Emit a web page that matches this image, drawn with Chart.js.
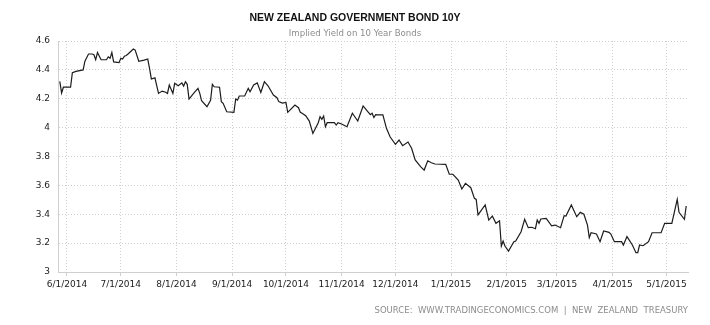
<!DOCTYPE html>
<html>
<head>
<meta charset="utf-8">
<script src="https://cdn.jsdelivr.net/npm/chart.js@4.4.1/dist/chart.umd.min.js"></script>
<style>
  html, body { margin: 0; padding: 0; background: #fff; }
  #wrap { width: 710px; height: 325px; }
</style>
</head>
<body>
<div id="wrap"><canvas id="bond"></canvas></div>
<script>
/* ---- NZ 10Y bond yield, daily closes ---- */
const dates = [
  '2014-05-28','2014-05-29','2014-05-30','2014-06-03','2014-06-04','2014-06-06','2014-06-10','2014-06-11','2014-06-13','2014-06-15',
  '2014-06-16','2014-06-17','2014-06-18','2014-06-20','2014-06-23','2014-06-24','2014-06-25','2014-06-26','2014-06-27','2014-06-30',
  '2014-07-01','2014-07-02','2014-07-03','2014-07-04','2014-07-05','2014-07-08','2014-07-09','2014-07-11','2014-07-14','2014-07-16',
  '2014-07-17','2014-07-18','2014-07-20','2014-07-22','2014-07-24','2014-07-26','2014-07-27','2014-07-28','2014-07-30','2014-07-31',
  '2014-08-02','2014-08-04','2014-08-05','2014-08-06','2014-08-07','2014-08-08','2014-08-11','2014-08-13','2014-08-14','2014-08-15',
  '2014-08-18','2014-08-20','2014-08-21','2014-08-22','2014-08-25','2014-08-26','2014-08-27','2014-08-29',
  '2014-09-02','2014-09-03','2014-09-04','2014-09-05','2014-09-08','2014-09-10','2014-09-11','2014-09-13','2014-09-15','2014-09-17',
  '2014-09-19','2014-09-21','2014-09-24','2014-09-26','2014-09-27','2014-09-29',
  '2014-10-01','2014-10-02','2014-10-06','2014-10-08','2014-10-09','2014-10-10','2014-10-12','2014-10-14','2014-10-16','2014-10-19',
  '2014-10-20','2014-10-21','2014-10-22','2014-10-23','2014-10-24','2014-10-28','2014-10-29','2014-10-30',
  '2014-11-01','2014-11-04','2014-11-07','2014-11-10','2014-11-13','2014-11-15','2014-11-17','2014-11-18','2014-11-19','2014-11-20',
  '2014-11-21','2014-11-24','2014-11-26','2014-11-28',
  '2014-12-01','2014-12-03','2014-12-05','2014-12-08','2014-12-10','2014-12-12','2014-12-15','2014-12-17','2014-12-19','2014-12-21',
  '2014-12-23','2014-12-29','2014-12-31',
  '2015-01-02','2015-01-05','2015-01-07','2015-01-09','2015-01-12','2015-01-14','2015-01-15','2015-01-16','2015-01-20','2015-01-22',
  '2015-01-24','2015-01-26','2015-01-28','2015-01-29','2015-01-30','2015-01-31',
  '2015-02-02','2015-02-05','2015-02-06','2015-02-09','2015-02-11','2015-02-13','2015-02-15','2015-02-17','2015-02-18','2015-02-19',
  '2015-02-20','2015-02-23','2015-02-26','2015-02-28',
  '2015-03-03','2015-03-05','2015-03-06','2015-03-09','2015-03-12','2015-03-14','2015-03-16','2015-03-18','2015-03-19','2015-03-20',
  '2015-03-23','2015-03-25','2015-03-27','2015-03-30','2015-03-31',
  '2015-04-02','2015-04-06','2015-04-07','2015-04-09','2015-04-12','2015-04-14','2015-04-15','2015-04-16','2015-04-18','2015-04-21',
  '2015-04-23','2015-04-28','2015-04-30',
  '2015-05-04','2015-05-07','2015-05-08','2015-05-11','2015-05-12'
];

const yields = [
  4.32, 4.24, 4.28, 4.28, 4.38, 4.39, 4.40, 4.46, 4.51, 4.51,
  4.505, 4.47, 4.52, 4.47, 4.47, 4.49, 4.48, 4.52, 4.455, 4.45,
  4.48, 4.475, 4.495, 4.50, 4.51, 4.545, 4.537, 4.46, 4.468, 4.475,
  4.41, 4.337, 4.345, 4.237, 4.253, 4.245, 4.237, 4.295, 4.237, 4.307,
  4.29, 4.31, 4.288, 4.318, 4.30, 4.198, 4.244, 4.272, 4.237, 4.186,
  4.145, 4.19, 4.30, 4.283, 4.28, 4.18, 4.168, 4.11,
  4.106, 4.198, 4.19, 4.219, 4.219, 4.272, 4.249, 4.295, 4.31, 4.244,
  4.318, 4.29, 4.226, 4.207, 4.18, 4.17,
  4.175, 4.106, 4.157, 4.138, 4.106, 4.10, 4.082, 4.045, 3.96, 4.034,
  4.076, 4.057, 4.08, 4.006, 4.034, 4.034, 4.018, 4.034,
  4.025, 4.006, 4.10, 4.046, 4.15, 4.12, 4.09, 4.10, 4.07, 4.09,
  4.088, 4.088, 3.995, 3.937,
  3.884, 3.914, 3.875, 3.90, 3.857, 3.776, 3.73, 3.706, 3.77, 3.757,
  3.748, 3.746, 3.677,
  3.677, 3.637, 3.575, 3.614, 3.584, 3.51, 3.503, 3.395, 3.464, 3.36,
  3.388, 3.337, 3.355, 3.18, 3.215, 3.18,
  3.145, 3.21, 3.215, 3.279, 3.365, 3.307, 3.31, 3.30, 3.36, 3.337,
  3.367, 3.372, 3.32, 3.325,
  3.307, 3.39, 3.388, 3.464, 3.383, 3.413, 3.40, 3.325, 3.238, 3.272,
  3.263, 3.21, 3.284, 3.275, 3.263,
  3.21, 3.21, 3.187, 3.245, 3.187, 3.134, 3.134, 3.187, 3.182, 3.21,
  3.272, 3.272, 3.337,
  3.337, 3.503, 3.413, 3.365, 3.457
];

const monthTicks = [
  '2014-06-01','2014-07-01','2014-08-01','2014-09-01','2014-10-01','2014-11-01',
  '2014-12-01','2015-01-01','2015-02-01','2015-03-01','2015-04-01','2015-05-01'
];
const yTicks = [3, 3.2, 3.4, 3.6, 3.8, 4, 4.2, 4.4, 4.6];
const xRange = ['2014-05-27', '2015-05-13'];

const titleText = 'NEW ZEALAND GOVERNMENT BOND 10Y';
const subtitleText = 'Implied Yield on 10 Year Bonds';
const sourceText = 'SOURCE:  WWW.TRADINGECONOMICS.COM  |  NEW  ZEALAND  TREASURY';

/* ---- helpers ---- */
const DAY = 86400000;
const toDay = s => Date.parse(s) / DAY;
const fmtDay = v => {
  const d = new Date(Math.round(v) * DAY);
  return (d.getUTCMonth() + 1) + '/' + d.getUTCDate() + '/' + d.getUTCFullYear();
};

const GRID = '#cfcfcf';
const FONT = '"DejaVu Sans", Verdana, sans-serif';

/* title, subtitle and source line */
const headerText = {
  id: 'headerText',
  afterDraw(chart) {
    const { ctx } = chart;
    const cx = chart.width / 2;
    ctx.save();
    ctx.textAlign = 'center';
    ctx.textBaseline = 'middle';
    ctx.fillStyle = '#111';
    ctx.font = 'bold 10.5px "Liberation Sans", Arial, sans-serif';
    ctx.fillText(titleText, cx, 18);
    ctx.fillStyle = '#8c8c8c';
    ctx.font = '8.6px ' + FONT;
    ctx.fillText(subtitleText, cx, 33.5);
    ctx.textAlign = 'right';
    ctx.font = '8.5px ' + FONT;
    ctx.fillText(sourceText, chart.chartArea.right, 311);
    ctx.restore();
  }
};

new Chart(document.getElementById('bond'), {
  type: 'line',
  data: {
    datasets: [{
      data: dates.map((d, i) => ({ x: toDay(d), y: yields[i] })),
      borderColor: '#1c1c1c',
      borderWidth: 1.2,
      pointRadius: 0,
      tension: 0,
      fill: false
    }]
  },
  options: {
    responsive: true,
    maintainAspectRatio: false,
    animation: false,
    layout: { padding: { top: 41, right: 22, left: 0, bottom: 0 } },
    plugins: { legend: { display: false }, tooltip: { enabled: false } },
    scales: {
      x: {
        type: 'linear',
        min: toDay(xRange[0]),
        max: toDay(xRange[1]),
        afterBuildTicks: s => { s.ticks = monthTicks.map(m => ({ value: toDay(m) })); },
        afterFit: s => { s.height = 53; },
        ticks: {
          callback: v => fmtDay(v),
          autoSkip: false,
          maxRotation: 0,
          color: '#222',
          font: { family: FONT, size: 9 },
          padding: 3
        },
        grid: { color: GRID, tickLength: 4, tickColor: GRID },
        border: { color: GRID, width: 1, dash: [1, 2] }
      },
      y: {
        min: 3,
        max: 4.6,
        afterBuildTicks: s => { s.ticks = yTicks.map(v => ({ value: v })); },
        afterFit: s => { s.width = 58; },
        ticks: {
          callback: v => String(+v.toFixed(1)),
          color: '#222',
          font: { family: FONT, size: 9 },
          padding: 8
        },
        grid: { color: GRID, drawTicks: false },
        border: { color: GRID, width: 1, dash: [1, 2] }
      }
    }
  },
  plugins: [headerText]
});
</script>
</body>
</html>
